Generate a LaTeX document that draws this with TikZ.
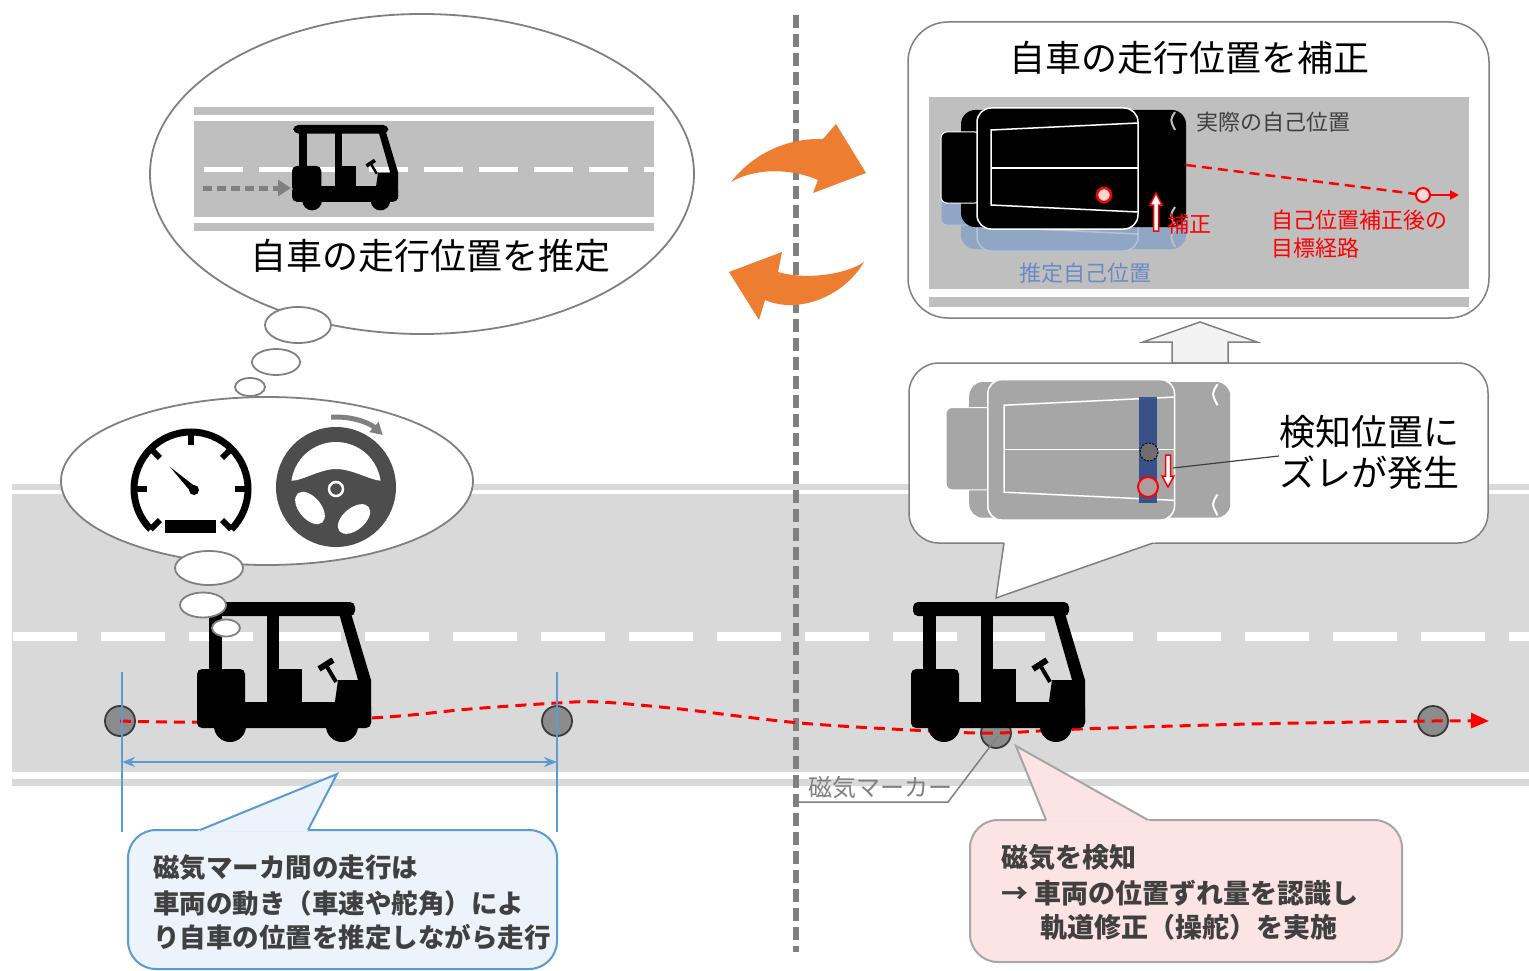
\documentclass[tikz,border=0pt]{standalone}
\usepackage{fontspec}
\newfontfamily\jp{Noto Sans CJK JP}
\usetikzlibrary{arrows.meta}

\definecolor{roadgray}{HTML}{D9D9D9}
\definecolor{picgray}{HTML}{BFBFBF}
\definecolor{edgegray}{HTML}{808080}
\definecolor{arroworange}{HTML}{ED7D31}
\definecolor{dimblue}{HTML}{5B9BD5}
\definecolor{notefill}{HTML}{EDF3FA}
\definecolor{alertfill}{HTML}{FCE4E4}
\definecolor{alertedge}{HTML}{A6A6A6}
\definecolor{textdark}{HTML}{404040}
\definecolor{wheeldark}{HTML}{4D4D4D}
\definecolor{shadowblue}{HTML}{8FA6C4}
\definecolor{shadowline}{HTML}{B4C3D8}
\definecolor{estblue}{HTML}{6A8AC6}
\definecolor{barnavy}{HTML}{2F4A86}
\definecolor{markerfill}{HTML}{8C8C8C}
\definecolor{markeredge}{HTML}{3A3A3A}
\definecolor{sensedot}{HTML}{FFD9D9}
\definecolor{cargray}{HTML}{A6A6A6}
\definecolor{liftfill}{HTML}{F2F2F2}
\definecolor{hitdot}{HTML}{B09C9C}
\definecolor{missdot}{HTML}{6E6E6E}

\colorlet{carbody}{black}
\colorlet{carline}{white}
\colorlet{carbg}{picgray}

\tikzset{
  jptext/.style={font=\jp\fontsize{#1}{#1}\selectfont, inner sep=0pt},
  jpbold/.style={font=\jp\bfseries\fontsize{#1}{#1}\selectfont, inner sep=0pt, text=textdark},
  bubble/.style={draw=edgegray, line width=1.8pt, fill=white},
  marker/.style={draw=markeredge, fill=markerfill, line width=1.8pt},
  trail/.style={red, line width=3pt, dash pattern=on 11pt off 7pt},
  % side view of the golf cart, origin at the top left, 174 x 140
  cart/.pic={
    \fill[rounded corners=5pt] (2,0) rectangle (158,14);
    \fill (12,8) rectangle (25,72);
    \fill (70,8) rectangle (82,106);
    \fill[rounded corners=5pt] (0,67) rectangle (48,110);
    \fill (70,67) rectangle (105,110);
    \fill (141,8) -- (153,8) -- (174,78) -- (174,121) -- (135,121) -- (141,78) -- (161,78) -- cycle;
    \fill[rounded corners=5pt] (0,100) rectangle (174,126);
    \fill (33,124) circle (16);
    \fill (145,124) circle (16);
    \fill (140.7,79) -- (137.3,81) -- (127.3,64) -- (130.7,62) -- cycle;
    \fill (123.6,69.5) -- (120.4,64.5) -- (134.4,55.5) -- (137.6,60.5) -- cycle;
  },
  % top view of the cart, origin at the bumper's left / body top
  cartop/.pic={
    \fill[carbody, rounded corners=14pt] (20,0) rectangle (245,117);
    \filldraw[fill=carbody, draw=carline, line width=1pt, rounded corners=6pt] (0,22) rectangle (40,93);
    \filldraw[fill=carbody, draw=carline, line width=1.5pt, rounded corners=14pt] (36,-2) rectangle (197,119);
    \draw[carline, line width=1.5pt] (197,13) -- (50,20) -- (50,95) -- (197,102);
    \draw[carline, line width=1.5pt] (50,58) -- (197,58);
    \draw[carbg, line width=2pt] (234,2) .. controls (229,10) .. (234,20);
    \draw[carbg, line width=2pt] (234,97) .. controls (229,105) .. (234,115);
  }
}

\begin{document}
\begin{tikzpicture}[x=1pt, y=-1pt]
\useasboundingbox (0,0) rectangle (1529,971);
\fill[white] (0,0) rectangle (1529,971);

% ---------- road ----------
\fill[roadgray] (12,484) rectangle (1529,490);
\fill[roadgray] (12,494) rectangle (1529,772);
\fill[roadgray] (12,779) rectangle (1529,786);
\draw[white, line width=9pt, dash pattern=on 64pt off 24pt] (13,636) -- (1529,636);

% ---------- divider ----------
\coordinate (divTop) at (796,15);
\coordinate (divBot) at (796,952);
\draw[edgegray, line width=6pt, dash pattern=on 13pt off 6pt] (divTop) -- (divBot);

% ---------- magnetic markers ----------
\coordinate (m1) at (120,721);
\coordinate (m2) at (557,721);
\coordinate (m3) at (996,733);
\coordinate (m4) at (1433,721);
\foreach \m in {m1,m2,m3,m4} \path[marker] (\m) circle (15);

% ---------- vehicle trajectory ----------
\coordinate (trEnd) at (1489,721);
\draw[trail, -{Triangle[length=18pt,width=15pt]}] plot[smooth, tension=0.55] coordinates
  {(m1) (200,722) (370,718) (470,709) (557,703) (600,702) (680,709) (800,723) (930,731) (m3) (1080,729) (1250,724) (m4) (trEnd)};

% ---------- distance between markers ----------
\coordinate (dimL) at (122,762);
\coordinate (dimR) at (557,762);
\draw[dimblue, line width=2pt] (122,672) -- (122,832);
\draw[dimblue, line width=2pt] (557,672) -- (557,832);
\draw[dimblue, line width=2pt, {Stealth[length=13pt,width=10pt]}-{Stealth[length=13pt,width=10pt]}] (dimL) -- (dimR);

% ---------- carts on the road ----------
\pic (cartL) at (197,602) {cart};
\pic (cartR) at (911,602) {cart};

% ---------- marker label ----------
\node[jptext=24, text=edgegray] (mlabel) at (880,787) {磁気マーカー};
\coordinate (mlA) at (798,802);
\coordinate (mlB) at (948,802);
\coordinate (mlC) at (998,736);
\draw[edgegray, line width=1.5pt] (mlA) -- (mlB) -- (mlC);

% ---------- note: dead reckoning ----------
\filldraw[fill=notefill, draw=dimblue, line width=2pt, rounded corners=28pt] (128,830) rectangle (557,969);
\coordinate (noteTip) at (337,774);
\fill[notefill] (196.3,831.5) -- (noteTip) -- (307.2,831.5) -- cycle;
\draw[dimblue, line width=2pt] (200,830) -- (noteTip) -- (308,830);
\node[jpbold=26.5, anchor=west] (note1) at (153,868) {磁気マーカ間の走行は};
\node[jpbold=26.5, anchor=west] (note2) at (153,903) {車両の動き（車速や舵角）によ};
\node[jpbold=26.5, anchor=west] (note3) at (153,937) {り自車の位置を推定しながら走行};

% ---------- note: detection ----------
\filldraw[fill=alertfill, draw=alertedge, line width=2pt, rounded corners=28pt] (970,820) rectangle (1402,962);
\coordinate (alertTip) at (1016,746);
\fill[alertfill] (1046.6,821.5) -- (alertTip) -- (1150.7,821.5) -- cycle;
\draw[alertedge, line width=2pt] (1046,820) -- (alertTip) -- (1148,820);
\node[jpbold=27, anchor=west] (alert1) at (1001,857) {磁気を検知};
\node[jpbold=27, anchor=west] (alert2) at (1001,893) {→ 車両の位置ずれ量を認識し};
\node[jpbold=27, anchor=west] (alert3) at (1040,927) {軌道修正（操舵）を実施};

% ---------- thought: speed and steering ----------
\filldraw[bubble] (267,481) ellipse [x radius=206, y radius=84];
\filldraw[bubble] (209,568) ellipse [x radius=34, y radius=17];
\filldraw[bubble] (203,605) ellipse [x radius=23, y radius=12.5];
\filldraw[bubble] (226,628) ellipse [x radius=14, y radius=8.5];

% speedometer
\coordinate (sp) at (191,489);
\draw[line width=7pt] (sp) ++(135:57) arc[start angle=135, end angle=405, radius=57];
\foreach \a in {135,180,225,270,315,360,405}
  \draw[line width=6pt] (sp) ++(\a:57) -- ++(\a+180:13);
\fill (196.5,487.5) -- (170,467) -- (191.5,492.5) -- cycle;
\fill (194,490) circle (5);
\fill (165,520) rectangle (216,533);

% steering wheel
\coordinate (sw) at (336,487);
\fill[wheeldark] (sw) circle (60);
\fill[white] (sw) ++(188:45) arc[start angle=188, end angle=352, radius=45]
  .. controls (370,480) and (352,469) .. (336,469)
  .. controls (320,469) and (302,481) .. cycle;
\fill[white, rotate around={-50:(310,508)}] (310,508) ellipse [x radius=19, y radius=11];
\fill[white, rotate around={40:(354,519)}] (354,519) ellipse [x radius=19, y radius=11];
\draw[white, line width=2.5pt] (336,489) circle (7);
\draw[edgegray, line width=5pt, -{Triangle[length=12pt,width=13pt]}] (sw) ++(266:70) arc[start angle=266, end angle=312, radius=70];

% ---------- thought: estimated position ----------
\filldraw[bubble] (422,174) ellipse [x radius=272, y radius=160];
\filldraw[bubble] (298,325) ellipse [x radius=33, y radius=18];
\filldraw[bubble] (276,362) ellipse [x radius=24, y radius=13];
\filldraw[bubble] (250,387) ellipse [x radius=15, y radius=9];

\fill[picgray] (194,107) rectangle (654,115);
\fill[picgray] (194,121) rectangle (654,217);
\fill[picgray] (194,223) rectangle (654,231);
\draw[white, line width=5pt, dash pattern=on 39pt off 16pt] (204,170) -- (654,170);
\coordinate (moveA) at (203,188);
\coordinate (moveB) at (291,188);
\draw[edgegray, line width=5pt, dash pattern=on 9pt off 5pt, -{Triangle[length=13pt,width=16pt]}] (moveA) -- (moveB);
\pic[scale=0.61] (cartS) at (292,125) {cart};
\node[jptext=36] (estTitle) at (430,256) {自車の走行位置を推定};

% ---------- cycle arrows ----------
\fill[arroworange] (731,182) .. controls (752,155) and (785,138) .. (823,139)
  -- (836,124) -- (866,173) -- (813,193) -- (818,180)
  .. controls (790,168) and (755,168) .. (731,182) -- cycle;
\fill[arroworange] (864,262) .. controls (845,295) and (800,315) .. (765,300)
  -- (759,320) -- (729,272) -- (782,252) -- (778,272)
  .. controls (805,280) and (845,275) .. (864,262) -- cycle;

% ---------- correction panel ----------
\filldraw[fill=white, draw=edgegray, line width=1.5pt, rounded corners=40pt] (908,22) rectangle (1489,318);
\node[jptext=36] (fixTitle) at (1189,58) {自車の走行位置を補正};
\fill[picgray] (929,97) rectangle (1469,289);
\fill[picgray] (929,297) rectangle (1469,307);

\colorlet{carbody}{shadowblue}\colorlet{carline}{shadowline}\colorlet{carbg}{picgray}
\pic (carEst) at (941,132) {cartop};
\colorlet{carbody}{black}\colorlet{carline}{white}\colorlet{carbg}{picgray}
\pic (carReal) at (941,110) {cartop};
\filldraw[fill=sensedot, draw=red, line width=2.5pt] (1104,195) circle (7);

\filldraw[fill=white, draw=red, line width=1.5pt] (1153.5,231) -- (1153.5,205) -- (1150,205) -- (1156,193)
  -- (1162,205) -- (1158.5,205) -- (1158.5,231) -- cycle;
\node[jptext=22, text=red, anchor=west] (fixLbl) at (1167,224) {補正};
\node[jptext=22, text=textdark, anchor=west] (realLbl) at (1196,122) {実際の自己位置};
\node[jptext=22, text=estblue] (estLbl) at (1085,273) {推定自己位置};

\coordinate (pathA) at (1186,165);
\coordinate (pathB) at (1416,194);
\draw[red, line width=2.5pt, dash pattern=on 10pt off 6pt] (pathA) -- (pathB);
\coordinate (goal) at (1423,195);
\filldraw[fill=sensedot, draw=red, line width=2pt] (goal) circle (7);
\coordinate (goalEnd) at (1459,195);
\draw[red, line width=2pt, -{Triangle[length=9pt,width=9pt]}] (1430,195) -- (goalEnd);
\node[jptext=22, text=red, anchor=west] (goalLbl1) at (1271,220) {自己位置補正後の};
\node[jptext=22, text=red, anchor=west] (goalLbl2) at (1271,248) {目標経路};

% ---------- lift arrow ----------
\filldraw[fill=liftfill, draw=edgegray, line width=1.5pt] (1172,363) -- (1172,342) -- (1143,342) -- (1200,322)
  -- (1257,342) -- (1228,342) -- (1228,363) -- cycle;

% ---------- detection callout ----------
\filldraw[fill=white, draw=edgegray, line width=1.5pt, rounded corners=30pt] (909,363) rectangle (1488,543);
\coordinate (detTip) at (996,598);
\fill[white] (1004.3,541) -- (detTip) -- (1158.7,541) -- cycle;
\draw[edgegray, line width=1.5pt] (1004,543) -- (detTip) -- (1153,543);

\colorlet{carbody}{cargray}\colorlet{carline}{white}\colorlet{carbg}{white}
\pic[scale=1.16] (carSense) at (946,382) {cartop};
\fill[barnavy, opacity=0.92] (1139,397) rectangle (1157,503);
\filldraw[fill=missdot, draw=black, line width=1pt, dash pattern=on 2pt off 1.5pt] (1149,452) circle (9);
\filldraw[fill=hitdot, draw=red, line width=2pt] (1148,487) circle (10);
\filldraw[fill=white, draw=red, line width=1.5pt] (1165.5,455) -- (1165.5,476) -- (1162,476) -- (1168,487)
  -- (1174,476) -- (1170.5,476) -- (1170.5,455) -- cycle;
\node[jptext=36, anchor=west] (gap1) at (1279,432) {検知位置に};
\node[jptext=36, anchor=west] (gap2) at (1279,473) {ズレが発生};
\coordinate (gapArrow) at (1173,468);
\draw[textdark, line width=1.2pt] (gapArrow) -- (gap2.north west);
\end{tikzpicture}
\end{document}
